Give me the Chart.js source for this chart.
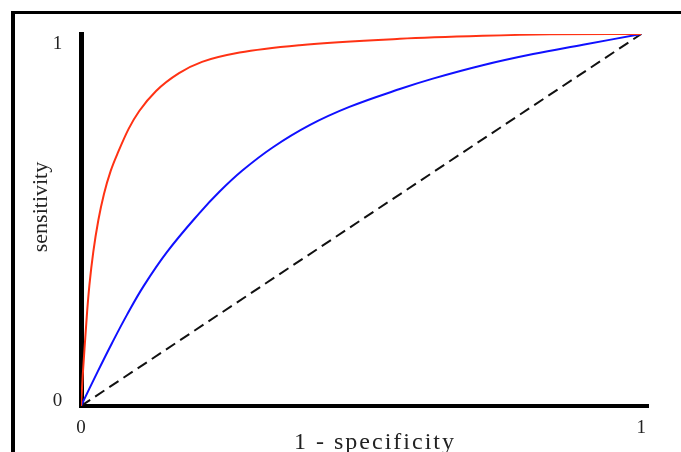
<!DOCTYPE html>
<html>
<head>
<meta charset="utf-8">
<script src="https://cdn.jsdelivr.net/npm/chart.js@4.4.0/dist/chart.umd.min.js"></script>
<style>
  body { margin: 0; background: #fff; }
  #wrap { position: relative; width: 681px; height: 452px; overflow: hidden; }
  #frame { position: absolute; left: 11px; top: 11px; width: 700px; height: 500px;
           border-top: 3px solid #000; border-left: 4px solid #000; }
  #roc { position: absolute; left: 0; top: 0; }
</style>
</head>
<body>
<div id="wrap">
  <div id="frame"></div>
  <canvas id="roc" width="681" height="452"></canvas>
</div>
<script>
// ROC curves
const redX  = [0, 0.003, 0.007, 0.011, 0.015, 0.022, 0.031, 0.041, 0.053, 0.067, 0.085, 0.104, 0.134, 0.175, 0.216, 0.283, 0.390, 0.569, 0.717, 0.837, 1]
const redY  = [0, 0.080, 0.170, 0.255, 0.325, 0.415, 0.500, 0.570, 0.632, 0.685, 0.745, 0.793, 0.847, 0.895, 0.925, 0.950, 0.970, 0.987, 0.995, 0.999, 1]
const blueX = [0, 0.030, 0.055, 0.082, 0.112, 0.154, 0.211, 0.247, 0.288, 0.342, 0.408, 0.479, 0.569, 0.628, 0.717, 0.807, 0.896, 1]
const blueY = [0, 0.093, 0.168, 0.245, 0.323, 0.415, 0.518, 0.576, 0.633, 0.695, 0.755, 0.804, 0.852, 0.880, 0.916, 0.946, 0.971, 1]
const diagX = [0, 1]
const diagY = [0, 1]

const xTickValues = [0, 1]
const yTickValues = [0, 1]
const xTitle = '1 - specificity'
const yTitle = 'sensitivity'

const toPoints = (xs, ys) => xs.map((x, i) => ({ x: x, y: ys[i] }))

// y tick labels and both axis titles, placed like the original figure
const labelPlugin = {
  id: 'rocLabels',
  afterDraw(chart) {
    const ctx = chart.ctx
    const ys = chart.scales.y
    ctx.save()
    ctx.fillStyle = '#222'
    ctx.font = '19px "Liberation Serif", serif'
    ctx.textAlign = 'center'
    yTickValues.forEach((v, i) => {
      ctx.textBaseline = i === 0 ? 'alphabetic' : 'top'
      ctx.fillText(String(v), 57.5, ys.getPixelForValue(v) + (i === 0 ? 0 : 1))
    })

    // x title
    ctx.font = '24px "Liberation Serif", serif'
    ctx.textBaseline = 'alphabetic'
    ctx.letterSpacing = '2px'
    ctx.fillText(xTitle, 375, 449)
    ctx.letterSpacing = '0px'

    // y title
    ctx.font = '22px "Liberation Serif", serif'
    ctx.translate(47, 207)
    ctx.rotate(-Math.PI / 2)
    ctx.fillText(yTitle, 0, 0)
    ctx.restore()
  }
}

const rocConfig = {
  type: 'scatter',
  data: {
    datasets: [
      {
        data: toPoints(redX, redY),
        showLine: true,
        borderColor: '#ff3214',
        borderWidth: 2,
        pointRadius: 0,
        cubicInterpolationMode: 'monotone',
      },
      {
        data: toPoints(blueX, blueY),
        showLine: true,
        borderColor: '#1010ff',
        borderWidth: 2,
        pointRadius: 0,
        tension: 0.4,
      },
      {
        data: toPoints(diagX, diagY),
        showLine: true,
        borderColor: '#111',
        borderWidth: 2,
        borderDash: [11, 6],
        pointRadius: 0,
      },
    ],
  },
  options: {
    responsive: false,
    animation: false,
    events: [],
    layout: { padding: { top: 34, right: 33, left: 0, bottom: 0 } },
    plugins: { legend: { display: false }, tooltip: { enabled: false } },
    scales: {
      x: {
        type: 'linear',
        min: 0,
        max: 1.012,
        afterBuildTicks: (scale) => { scale.ticks = xTickValues.map(v => ({ value: v })) },
        afterFit: (scale) => { scale.height = 46 },
        grid: { display: false, drawTicks: false },
        border: { display: true, color: '#000', width: 4 },
        ticks: {
          color: '#222',
          padding: 11,
          maxRotation: 0,
          font: { family: '"Liberation Serif", serif', size: 19 },
        },
      },
      y: {
        type: 'linear',
        min: 0,
        max: 1,
        afterFit: (scale) => { scale.width = 81 },
        grid: { display: false, drawTicks: false },
        border: { display: true, color: '#000', width: 5 },
        ticks: { display: false },
      },
    },
  },
  plugins: [labelPlugin],
}

const rocCtx = document.getElementById('roc')
window.myRoc = new Chart(rocCtx, rocConfig)
</script>
</body>
</html>
